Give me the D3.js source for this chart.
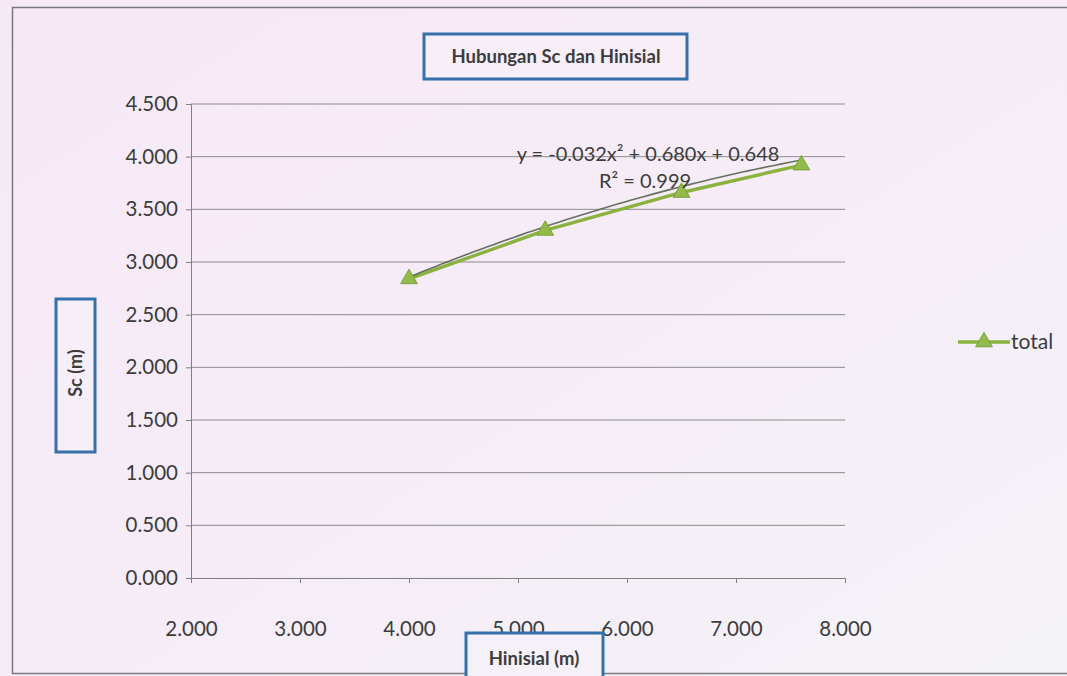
<!DOCTYPE html>
<html>
<head>
<meta charset="utf-8">
<script src="https://cdn.jsdelivr.net/npm/d3@7/dist/d3.min.js"></script>
<style>
  html, body { margin: 0; padding: 0; background: #f5ecf6; }
  svg { display: block; }
  text { font-family: Lato, "Open Sans", sans-serif; fill: #3c3c3c; }
</style>
</head>
<body>
<svg id="chart" width="1067" height="676"></svg>
<script>
// Measured settlement data
const hinisial = [4.0, 5.25, 6.5, 7.6];
const sc = [2.84, 3.30, 3.66, 3.92];
const seriesName = "total";

// Polynomial trendline coefficients (y = a x^2 + b x + c)
const trendCoef = [-0.032, 0.680, 0.648];
const trendLabel = "y = -0.032x² + 0.680x + 0.648";
const r2Label = "R² = 0.999";

const xTicks = [2, 3, 4, 5, 6, 7, 8];
const yTicks = [0, 0.5, 1, 1.5, 2, 2.5, 3, 3.5, 4, 4.5];

const titleText = "Hubungan Sc dan Hinisial";
const xTitle = "Hinisial (m)";
const yTitle = "Sc (m)";

const svg = d3.select("#chart");
const W = 1067, H = 676;

// Background wash
const defs = svg.append("defs");
const grad = defs.append("linearGradient").attr("id", "bg")
  .attr("x1", "0").attr("y1", "0").attr("x2", "1").attr("y2", "1");
grad.append("stop").attr("offset", "0").attr("stop-color", "#f6e9f6");
grad.append("stop").attr("offset", "0.6").attr("stop-color", "#f5edf7");
grad.append("stop").attr("offset", "1").attr("stop-color", "#f4f3f8");
svg.append("rect").attr("width", W).attr("height", H).attr("fill", "url(#bg)");

// Chart frame
svg.append("rect")
  .attr("x", 12.5).attr("y", 7.5).attr("width", W + 20).attr("height", 666)
  .attr("fill", "none").attr("stroke", "#7a7a7a").attr("stroke-width", 1.5);

const plot = { left: 191, right: 845, top: 104, bottom: 578 };
const x = d3.scaleLinear().domain([2, 8]).range([plot.left, plot.right]);
const y = d3.scaleLinear().domain([0, 4.5]).range([plot.bottom, plot.top]);

const fmt = d3.format(".3f");
const tickFont = "20.5px";

// Horizontal gridlines
svg.append("g").selectAll("line").data(yTicks.filter(d => d > 0)).join("line")
  .attr("x1", plot.left).attr("x2", plot.right)
  .attr("y1", d => y(d)).attr("y2", d => y(d))
  .attr("stroke", "#8c8c8c").attr("stroke-width", 1);

// Y axis
const yAxis = svg.append("g").attr("transform", `translate(${plot.left},0)`)
  .call(d3.axisLeft(y).tickValues(yTicks).tickFormat(fmt).tickSize(5).tickPadding(8));
yAxis.select(".domain").attr("stroke", "#7f7f7f");
yAxis.selectAll(".tick line").attr("stroke", "#7f7f7f");
yAxis.selectAll("text").style("font-size", tickFont).attr("fill", "#3c3c3c")
  .style("font-family", "Lato, 'Open Sans', sans-serif");

// X axis
const xAxis = svg.append("g").attr("transform", `translate(0,${plot.bottom})`)
  .call(d3.axisBottom(x).tickValues(xTicks).tickFormat(fmt).tickSize(5).tickPadding(38));
xAxis.select(".domain").attr("stroke", "#7f7f7f");
xAxis.selectAll(".tick line").attr("stroke", "#7f7f7f");
xAxis.selectAll("text").style("font-size", tickFont).attr("fill", "#3c3c3c")
  .style("font-family", "Lato, 'Open Sans', sans-serif");

// Data series line
const green = "#8bb23e";
const pts = hinisial.map((h, i) => [h, sc[i]]);
svg.append("path").datum(pts)
  .attr("fill", "none").attr("stroke", green).attr("stroke-width", 3.4)
  .attr("d", d3.line().x(d => x(d[0])).y(d => y(d[1])));

// Trendline from the fitted polynomial
const trendPts = d3.range(0, 61).map(i => {
  const xv = hinisial[0] + (hinisial[hinisial.length - 1] - hinisial[0]) * i / 60;
  return [xv, trendCoef[0] * xv * xv + trendCoef[1] * xv + trendCoef[2]];
});
svg.append("path").datum(trendPts)
  .attr("fill", "none").attr("stroke", "#4d5a48").attr("stroke-width", 1.6).attr("opacity", 0.85)
  .attr("d", d3.line().x(d => x(d[0])).y(d => y(d[1])));

// Triangle markers
const tri = d3.symbol().type(d3.symbolTriangle).size(120);
svg.append("g").selectAll("path").data(pts).join("path")
  .attr("transform", d => `translate(${x(d[0])},${y(d[1])})`)
  .attr("d", tri).attr("fill", "#93bb4a").attr("stroke", "#7aa038").attr("stroke-width", 1);

// Trendline equation
svg.append("text").attr("x", 648).attr("y", 161).attr("text-anchor", "middle")
  .style("font-size", "20px").text(trendLabel);
svg.append("text").attr("x", 645).attr("y", 188).attr("text-anchor", "middle")
  .style("font-size", "20px").text(r2Label);

// Title box
svg.append("rect").attr("x", 424).attr("y", 34).attr("width", 263).attr("height", 45)
  .attr("fill", "#f7eef8").attr("stroke", "#3670ab").attr("stroke-width", 3);
svg.append("text").attr("x", 556).attr("y", 63).attr("text-anchor", "middle")
  .style("font-size", "18.5px").style("font-weight", "bold").attr("fill", "#3e3e3e")
  .text(titleText);

// Y axis title box
svg.append("rect").attr("x", 56).attr("y", 299).attr("width", 39).attr("height", 153)
  .attr("fill", "#f6eef8").attr("stroke", "#3670ab").attr("stroke-width", 3);
svg.append("text").attr("transform", "translate(82,373) rotate(-90)")
  .attr("text-anchor", "middle")
  .style("font-size", "18px").style("font-weight", "bold").attr("fill", "#3e3e3e")
  .text(yTitle);

// X axis title box
svg.append("rect").attr("x", 466).attr("y", 633).attr("width", 137).attr("height", 60)
  .attr("fill", "#f6f1f8").attr("stroke", "#3670ab").attr("stroke-width", 3);
svg.append("text").attr("x", 534).attr("y", 665).attr("text-anchor", "middle")
  .style("font-size", "18.5px").style("font-weight", "bold").attr("fill", "#3e3e3e")
  .text(xTitle);

// Legend
const lg = svg.append("g").attr("transform", "translate(958,342)");
lg.append("line").attr("x1", 0).attr("x2", 52).attr("y1", 0).attr("y2", 0)
  .attr("stroke", green).attr("stroke-width", 3.4);
lg.append("path").attr("transform", "translate(26,0)").attr("d", tri)
  .attr("fill", "#93bb4a").attr("stroke", "#7aa038");
lg.append("text").attr("x", 53).attr("y", 7).style("font-size", "21px").text(seriesName);
</script>
</body>
</html>
